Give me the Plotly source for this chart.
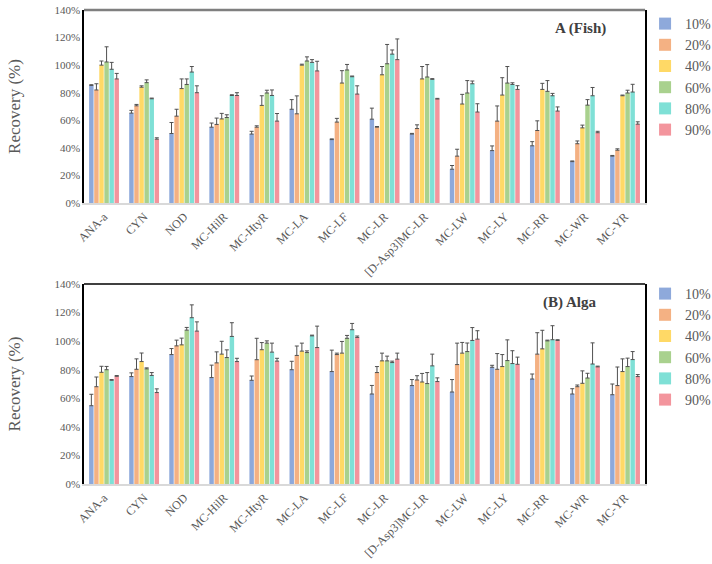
import plotly.graph_objects as go

categories = ["ANA-a", "CYN", "NOD", "MC-HilR", "MC-HtyR", "MC-LA", "MC-LF", "MC-LR",
              "[D-Asp3]MC-LR", "MC-LW", "MC-LY", "MC-RR", "MC-WR", "MC-YR"]
series_names = ["10%", "20%", "40%", "60%", "80%", "90%"]
colors = ["#8EA9DB", "#F4B183", "#FFD966", "#A9D18E", "#7FE0D6", "#F3959D"]

# Panel A (Fish) recovery values (%)
fish_10 = [85.3, 65.2, 50.4, 55.0, 50.0, 68.0, 46.0, 60.8, 50.0, 24.5, 38.0, 41.5, 30.0, 34.0]
fish_20 = [82.0, 70.5, 63.0, 57.0, 55.0, 64.7, 58.7, 55.0, 54.0, 34.0, 59.4, 52.6, 43.0, 38.3]
fish_40 = [100.0, 84.0, 83.0, 61.0, 70.8, 100.0, 87.0, 93.0, 90.0, 71.8, 78.3, 82.4, 54.5, 77.8]
fish_60 = [102.3, 87.3, 86.0, 62.0, 79.8, 103.0, 96.5, 101.0, 91.4, 79.8, 87.0, 81.0, 71.0, 79.8]
fish_80 = [97.0, 75.6, 95.0, 78.0, 78.0, 102.0, 91.6, 108.0, 89.7, 86.5, 86.0, 77.8, 77.8, 80.5]
fish_90 = [90.0, 46.3, 80.0, 78.0, 59.4, 95.8, 79.0, 104.0, 75.4, 66.0, 82.4, 66.7, 51.0, 57.2]
fish_err_10 = [0.5, 2.0, 8.0, 3.0, 2.0, 7.0, 0.5, 8.0, 0.5, 2.7, 3.4, 3.0, 0.5, 0.5]
fish_err_20 = [4.5, 1.0, 5.0, 4.6, 1.0, 13.0, 2.7, 0.5, 2.7, 5.0, 11.0, 7.0, 2.0, 1.0]
fish_err_40 = [3.0, 1.0, 7.0, 4.0, 7.0, 0.7, 9.0, 6.0, 9.0, 7.0, 12.6, 4.4, 2.0, 0.5]
fish_err_60 = [11.0, 2.0, 4.0, 2.0, 2.0, 3.0, 4.0, 14.0, 9.0, 9.0, 12.0, 7.8, 4.0, 2.0]
fish_err_80 = [5.0, 0.5, 4.0, 0.5, 4.0, 2.0, 0.5, 3.0, 0.5, 2.0, 1.2, 1.7, 6.0, 5.6]
fish_err_90 = [4.0, 1.0, 5.0, 2.0, 5.5, 7.0, 6.0, 15.0, 0.5, 6.0, 2.7, 3.0, 1.0, 1.7]

# Panel B (Alga) recovery values (%)
alga_10 = [54.8, 75.2, 90.6, 74.5, 72.6, 80.0, 78.7, 63.0, 68.9, 64.4, 81.7, 73.5, 63.0, 62.5]
alga_20 = [68.1, 80.3, 96.7, 84.8, 87.0, 90.0, 90.6, 78.0, 72.8, 83.6, 80.3, 90.9, 68.1, 68.9]
alga_40 = [78.2, 85.7, 97.4, 90.9, 94.0, 93.0, 91.6, 86.2, 71.4, 91.6, 82.2, 94.6, 70.5, 78.7]
alga_60 = [80.0, 80.6, 107.7, 88.5, 98.6, 92.0, 102.0, 86.2, 70.3, 92.7, 86.4, 100.2, 74.2, 82.2]
alga_80 = [72.6, 76.0, 116.4, 103.3, 92.3, 103.7, 108.0, 85.0, 82.7, 100.5, 84.3, 101.0, 84.0, 87.1]
alga_90 = [75.4, 64.0, 107.0, 85.7, 86.0, 95.5, 102.6, 87.4, 71.7, 101.4, 83.8, 100.5, 82.0, 75.2]
alga_err_10 = [8.0, 2.6, 4.2, 8.7, 3.0, 5.9, 15.0, 6.0, 4.2, 8.7, 1.4, 3.5, 3.7, 7.5]
alga_err_20 = [6.8, 7.3, 4.0, 7.7, 15.0, 6.6, 1.0, 4.2, 3.0, 15.0, 11.0, 15.0, 1.2, 13.0]
alga_err_40 = [4.2, 6.0, 4.7, 9.0, 5.0, 5.6, 8.2, 5.4, 6.0, 7.5, 8.4, 13.0, 8.7, 8.9]
alga_err_60 = [2.3, 0.7, 1.9, 5.4, 1.6, 1.2, 2.0, 3.3, 7.7, 6.0, 14.5, 0.5, 3.3, 5.9]
alga_err_80 = [0.5, 2.0, 9.0, 9.6, 6.3, 0.5, 4.4, 1.0, 8.2, 9.0, 9.0, 9.8, 14.8, 5.6]
alga_err_90 = [0.5, 2.6, 6.5, 2.3, 2.0, 15.0, 1.0, 4.2, 2.6, 5.9, 5.0, 0.5, 0.5, 1.4]

y_ticks = [0, 20, 40, 60, 80, 100, 120, 140]
y_tick_labels = ["0%", "20%", "40%", "60%", "80%", "100%", "120%", "140%"]

fish_vals = [fish_10, fish_20, fish_40, fish_60, fish_80, fish_90]
fish_errs = [fish_err_10, fish_err_20, fish_err_40, fish_err_60, fish_err_80, fish_err_90]
alga_vals = [alga_10, alga_20, alga_40, alga_60, alga_80, alga_90]
alga_errs = [alga_err_10, alga_err_20, alga_err_40, alga_err_60, alga_err_80, alga_err_90]

FONT = "Liberation Serif, Times New Roman, serif"
GREY = "#595959"

fig = go.Figure()

for i, name in enumerate(series_names):
    fig.add_trace(go.Bar(
        x=categories, y=fish_vals[i], name=name, marker_color=colors[i],
        marker_line_width=0, xaxis="x", yaxis="y", legend="legend",
        error_y=dict(type="data", array=fish_errs[i], arrayminus=[0] * len(categories),
                     symmetric=False, color="#505050", thickness=1, width=2),
    ))
for i, name in enumerate(series_names):
    fig.add_trace(go.Bar(
        x=categories, y=alga_vals[i], name=name, marker_color=colors[i],
        marker_line_width=0, xaxis="x2", yaxis="y2", legend="legend2",
        error_y=dict(type="data", array=alga_errs[i], arrayminus=[0] * len(categories),
                     symmetric=False, color="#505050", thickness=1, width=2),
    ))

axis_common_x = dict(tickangle=-45, tickfont=dict(family=FONT, size=12, color=GREY),
                     showline=True, linecolor="#D9D9D9", linewidth=2, ticks="",
                     showgrid=False, automargin=False)
axis_common_y = dict(range=[0, 140], tickmode="array", tickvals=y_ticks, ticktext=y_tick_labels,
                     tickfont=dict(family=FONT, size=11, color=GREY),
                     showline=True, linecolor="#000000", linewidth=1.5, mirror=True,
                     showgrid=False, zeroline=False, ticks="", automargin=False,
                     title=dict(text="Recovery (%)", font=dict(family=FONT, size=17, color=GREY),
                                standoff=29))

H_PLOT = 484.0  # height of plotting region (564 - bottom margin 80, top margin 0)

legend_common = dict(xref="container", yref="container", xanchor="left", yanchor="top",
                     font=dict(family=FONT, size=14, color=GREY), tracegroupgap=0,
                     itemwidth=30, bgcolor="rgba(0,0,0,0)")

fig.update_layout(
    width=712, height=564,
    font=dict(family=FONT, color=GREY),
    margin=dict(l=84, r=58, t=0, b=80),
    plot_bgcolor="white", paper_bgcolor="white",
    barmode="group", bargap=0.24, bargroupgap=0.12,
    xaxis=dict(domain=[0, 1], anchor="y", **axis_common_x),
    yaxis=dict(domain=[(484 - 203) / H_PLOT, (484 - 10) / H_PLOT], anchor="x", **axis_common_y),
    xaxis2=dict(domain=[0, 1], anchor="y2", **axis_common_x),
    yaxis2=dict(domain=[0.0, (484 - 284) / H_PLOT], anchor="x2", **axis_common_y),
    legend=dict(x=0.906, y=1 - 8 / 564, **legend_common),
    legend2=dict(x=0.906, y=1 - 278 / 564, **legend_common),
    annotations=[
        dict(text="<b>A (Fish)</b>", xref="x domain", yref="y domain", x=0.885, y=0.905,
             xanchor="center", yanchor="middle",
             showarrow=False, font=dict(family=FONT, size=15, color="#404040")),
        dict(text="<b>(B) Alga</b>", xref="x2 domain", yref="y2 domain", x=0.865, y=0.91,
             xanchor="center", yanchor="middle",
             showarrow=False, font=dict(family=FONT, size=15, color="#404040")),
    ],
    shapes=[
        dict(type="line", xref="x domain", yref="y domain", x0=0, x1=1, y0=1, y1=1,
             line=dict(color="#7F7F7F", width=2.5)),
        dict(type="line", xref="x2 domain", yref="y2 domain", x0=0, x1=1, y0=1, y1=1,
             line=dict(color="#000000", width=1.5)),
    ],
)

fig.write_html("out.html")
